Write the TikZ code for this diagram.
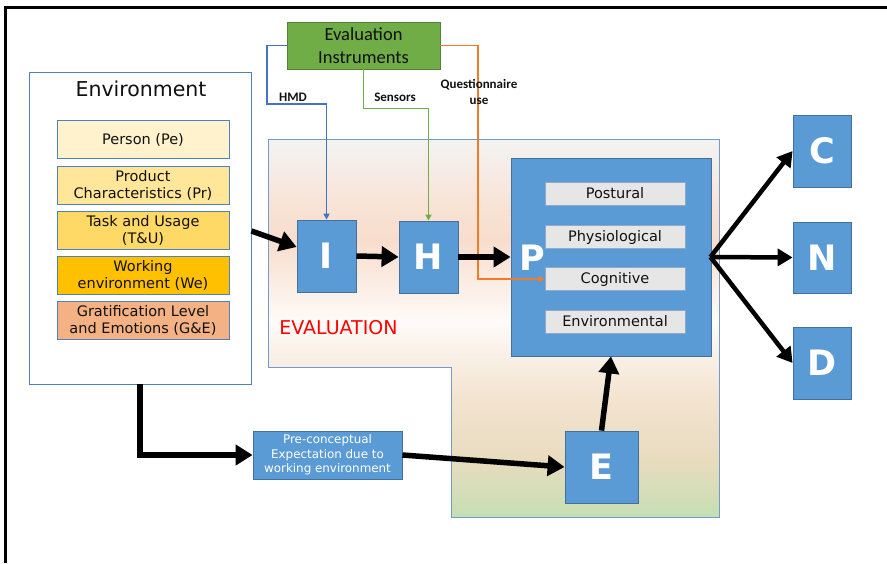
\documentclass[tikz,border=0pt]{standalone}
\usepackage{fontspec}
\setmainfont{DejaVu Sans}
\newfontfamily\carl{Carlito}
\usetikzlibrary{arrows.meta,calc}
\definecolor{bluebox}{HTML}{5B9BD5}
\definecolor{blueedge}{HTML}{41719C}
\definecolor{thinedge}{HTML}{4F81BD}
\definecolor{c1}{HTML}{FFF2CC}
\definecolor{c2}{HTML}{FFE699}
\definecolor{c3}{HTML}{FFD966}
\definecolor{c4}{HTML}{FFC000}
\definecolor{c5}{HTML}{F4B183}
\definecolor{grn}{HTML}{70AD47}
\definecolor{grnedge}{HTML}{548235}
\definecolor{hmdc}{HTML}{4472C4}
\definecolor{senc}{HTML}{70AD47}
\definecolor{questcol}{HTML}{F07C2A}
\definecolor{subfill}{HTML}{E7E6E6}
\definecolor{subedge}{HTML}{8EA9CB}
\definecolor{txt}{HTML}{111111}
\definecolor{shG}{HTML}{C5DEB2}
\definecolor{shTan}{HTML}{E8DCBE}
\definecolor{shPeachB}{HTML}{F3E3D0}
\definecolor{shWhite}{HTML}{FEFBF8}
\definecolor{shPeach}{HTML}{F8DDCC}
\definecolor{shPeachA}{HTML}{F8E4D8}
\definecolor{shTop}{HTML}{F3F3F3}
\definecolor{evalred}{HTML}{FF0000}
\pgfdeclareverticalshading{evalshade}{100bp}{color(0bp)=(shG); color(25bp)=(shG); color(32.5bp)=(shTan); color(40.5bp)=(shPeachB); color(51bp)=(shWhite); color(61.6bp)=(shPeach); color(66.9bp)=(shPeachA); color(75bp)=(shTop); color(100bp)=(shTop)}
\tikzset{
  blk/.style={draw=blueedge, fill=bluebox, line width=0.8pt, text=white, inner sep=0pt,
    font=\bfseries\fontsize{35}{35}\selectfont},
  envsub/.style={draw=thinedge, line width=0.9pt, inner sep=0pt, text=txt, align=center,
    minimum width=172pt, minimum height=38pt, font=\fontsize{14.5}{17}\selectfont},
  pstub/.style={draw=subedge, fill=subfill, line width=1pt, inner sep=0pt, text=txt,
    minimum width=140pt, minimum height=23pt, font=\fontsize{14.5}{17}\selectfont},
  thickarrow/.style={line width=5.5pt, -{Triangle[length=17pt,width=20pt]}},
  fanarrow/.style={line width=4.5pt, -{Triangle[length=15pt,width=17pt]}},
  thinarrow/.style={line width=1.7pt, -{Triangle[length=6pt,width=6pt]}},
  lbl/.style={font=\carl\bfseries\fontsize{13}{16}\selectfont, text=txt, inner sep=0pt, align=center}
}
\begin{document}
\begin{tikzpicture}[x=1pt,y=-1pt]
\useasboundingbox (0,0) rectangle (887,563);
% frame
\draw[line width=3pt] (5.5,563) -- (5.5,7.5) -- (887,7.5);
% evaluation region
\shade[shading=evalshade] (268,139) -- (719,139) -- (719,517) -- (451,517) -- (451,367) -- (268,367) -- cycle;
\draw[thinedge!80, line width=0.9pt] (268,139) -- (719,139) -- (719,517) -- (451,517) -- (451,367) -- (268,367) -- cycle;
\node[text=evalred, font=\fontsize{19}{19}\selectfont, inner sep=0pt] (evlabel) at (338.5,328) {EVALUATION};
% environment
\node[draw=thinedge, line width=0.9pt, fill=white, minimum width=222pt, minimum height=312pt, inner sep=0pt] (Env) at (140,228) {};
\node[font=\fontsize{20.5}{20.5}\selectfont, text=txt, inner sep=0pt] (EnvT) at (141,89) {Environment};
\node[envsub, fill=c1] (Pe) at (143,139.5) {Person (Pe)};
\node[envsub, fill=c2] (Pr) at (143,185) {Product\\Characteristics (Pr)};
\node[envsub, fill=c3] (TU) at (143,230) {Task and Usage\\(T\&U)};
\node[envsub, fill=c4] (We) at (143,275) {Working\\environment (We)};
\node[envsub, fill=c5] (GE) at (143,320) {Gratification Level\\and Emotions (G\&E)};
% evaluation instruments
\node[draw=grnedge, fill=grn, line width=0.9pt, minimum width=153pt, minimum height=47pt, inner sep=0pt,
  align=center, text=txt, font=\carl\fontsize{18.5}{23}\selectfont] (EI) at (363.5,45.5) {Evaluation\\Instruments};
% blocks
\node[blk, minimum width=59pt, minimum height=72pt] (I) at (326.5,256) {I};
\node[blk, minimum width=59pt, minimum height=72pt] (H) at (428.5,257) {H};
\node[blk, minimum width=200pt, minimum height=198pt] (Pbox) at (611,257) {};
\node[text=white, font=\bfseries\fontsize{35}{35}\selectfont, inner sep=0pt] (Pl) at (532,258) {P};
\node[pstub] (Pos) at (615,193.5) {Postural};
\node[pstub] (Phy) at (615,237) {Physiological};
\node[pstub] (Cog) at (615,279) {Cognitive};
\node[pstub] (Env2) at (615,321.5) {Environmental};
\node[blk, minimum width=73pt, minimum height=72pt] (E) at (601.5,467) {E};
\node[blk, minimum width=58pt, minimum height=72pt] (C) at (822,151) {C};
\node[blk, minimum width=58pt, minimum height=71pt] (N) at (822,257.5) {N};
\node[blk, minimum width=58pt, minimum height=72pt] (D) at (822,363) {D};
\node[draw=blueedge, fill=bluebox, line width=0.8pt, minimum width=149pt, minimum height=48pt, inner sep=0pt,
  align=center, text=white, font=\fontsize{11.9}{14.7}\selectfont] (Pre) at (327.5,455) {Pre-conceptual\\Expectation due to\\working environment};
% thin instrument lines
\draw[thinarrow, color=hmdc] (EI.west) -| (267,104) -| (I.north);
\draw[thinarrow, color=senc] (EI.south) -- ++(0,39) -| (H.north);
\draw[thinarrow, color=questcol] (EI.east) -| ($(Cog.west)+(-66.5,0)$) -- (Cog.west);
\node[lbl] (hmdl) at (293,97) {HMD};
\node[lbl] (senl) at (395,97) {Sensors};
\node[lbl] (ql) at (479,92) {Questionnaire\\use};
% thick arrows
\draw[thickarrow] ($(Env.east)+(0,3)$) -- ($(I.west)+(0,-9)$);
\draw[thickarrow] (I.east) -- (H.west);
\draw[thickarrow] (H.east) -- (Pbox.west);
\draw[thickarrow] (E.north) -- (Pbox.south);
\draw[thickarrow] (Env.south) |- (Pre.west);
\draw[thickarrow] (Pre.east) -- (E.west);
\coordinate (fan) at ($(Pbox.east)+(-1,0)$);
\draw[fanarrow] (fan) -- (C.west);
\draw[fanarrow] (fan) -- (N.west);
\draw[fanarrow] (fan) -- (D.west);
\end{tikzpicture}
\end{document}
